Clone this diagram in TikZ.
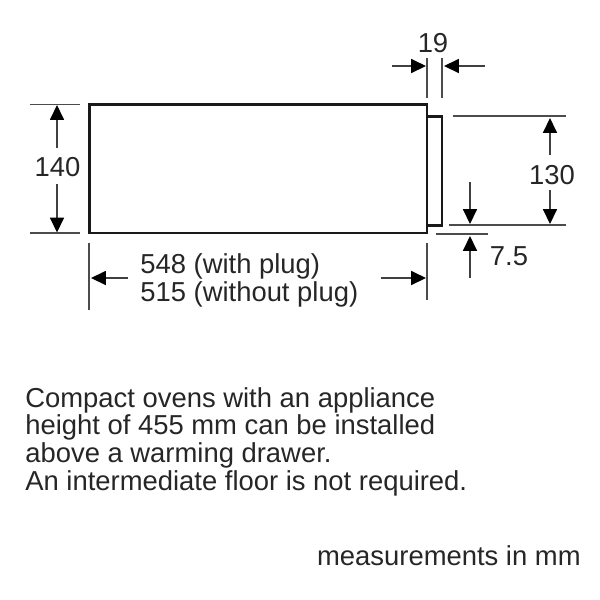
\documentclass[tikz,border=0pt]{standalone}
\usepackage{fontspec}
\setmainfont{Liberation Sans}
\usetikzlibrary{arrows.meta}
\tikzset{
    outline/.style={draw=black!90, line width=1.5pt, line join=miter},
    tick/.style={draw=black!70, line width=0.8pt},
    dimarrow/.style={draw=black!75, line width=0.8pt, -{Triangle[length=8.5pt,width=8pt,color=black]}},
    dimlabel/.style={text=black!85, font=\fontsize{15.6}{15.9}\selectfont, inner sep=0pt},
    notetext/.style={text=black!85, font=\fontsize{15.6}{15.75}\selectfont, inner sep=0pt, align=left, anchor=north west}
}
\begin{document}
\begin{tikzpicture}[x=0.02cm, y=-0.02cm]
    \useasboundingbox (0,0) rectangle (600,600);

    % appliance
    \coordinate (bodytl) at (89.5,104.5);
    \coordinate (bodytr) at (427,104.5);
    \coordinate (bodybl) at (89.5,233);
    \coordinate (bodybr) at (427,233);
    \coordinate (drawertl) at (427,116.5);
    \coordinate (drawertr) at (442,116.5);
    \coordinate (drawerbl) at (427,225.5);
    \coordinate (drawerbr) at (442,225.5);
    \draw[outline] (bodytl) -- (bodytr) -- (bodybr) -- (bodybl) -- cycle;
    \draw[outline] (drawertl) -- (drawertr) -- (drawerbr) -- (drawerbl);

    % 19
    \node[dimlabel] (depth) at (433,43.5) {19};
    \coordinate (depthla) at (427,58);
    \coordinate (depthlb) at (427,98);
    \coordinate (depthra) at (442,58);
    \coordinate (depthrb) at (442,98);
    \coordinate (deptharrowl) at (392,66);
    \coordinate (deptharrowlend) at (426,66);
    \coordinate (deptharrowr) at (485,66);
    \coordinate (deptharrowrend) at (444,66);
    \draw[tick] (depthla) -- (depthlb);
    \draw[tick] (depthra) -- (depthrb);
    \draw[dimarrow] (deptharrowl) -- (deptharrowlend);
    \draw[dimarrow] (deptharrowr) -- (deptharrowrend);

    % 140
    \node[dimlabel] (height) at (57.5,167) {140};
    \coordinate (heightta) at (30,104.5);
    \coordinate (heighttb) at (80,104.5);
    \coordinate (heightba) at (30,233);
    \coordinate (heightbb) at (80,233);
    \coordinate (heightt) at (57,105);
    \coordinate (heightb) at (57,232.5);
    \draw[tick] (heightta) -- (heighttb);
    \draw[tick] (heightba) -- (heightbb);
    \draw[dimarrow] (57,148) -- (heightt);
    \draw[dimarrow] (57,184) -- (heightb);

    % 548 / 515
    \node[dimlabel, align=left, anchor=north west] (width) at (140,253) {548 (with plug)\\515 (without plug)};
    \coordinate (widthla) at (89,243);
    \coordinate (widthlb) at (89,310);
    \coordinate (widthra) at (427,243);
    \coordinate (widthrb) at (427,300);
    \coordinate (widthl) at (128,278);
    \coordinate (widthlend) at (91,278);
    \coordinate (widthr) at (381,278);
    \coordinate (widthrend) at (426,278);
    \draw[tick] (widthla) -- (widthlb);
    \draw[tick] (widthra) -- (widthrb);
    \draw[dimarrow] (widthl) -- (widthlend);
    \draw[dimarrow] (widthr) -- (widthrend);

    % 130
    \node[dimlabel] (front) at (552,175) {130};
    \coordinate (frontta) at (453,116);
    \coordinate (fronttb) at (566,116);
    \coordinate (frontba) at (449,225);
    \coordinate (frontbb) at (566,225);
    \coordinate (frontt) at (550,118);
    \coordinate (frontb) at (550,224);
    \draw[tick] (frontta) -- (fronttb);
    \draw[tick] (frontba) -- (frontbb);
    \draw[dimarrow] (550,155) -- (frontt);
    \draw[dimarrow] (550,190) -- (frontb);

    % 7.5
    \node[dimlabel] (gap) at (509,256) {7.5};
    \coordinate (gapa) at (436,234);
    \coordinate (gapb) at (488,234);
    \coordinate (gapt) at (470,182);
    \coordinate (gaptend) at (470,224);
    \coordinate (gapd) at (470,278);
    \coordinate (gapdend) at (470,236);
    \draw[tick] (gapa) -- (gapb);
    \draw[dimarrow] (gapt) -- (gaptend);
    \draw[dimarrow] (gapd) -- (gapdend);

    % notes
    \node[notetext] (note) at (25,387) {Compact ovens with an appliance\\height of 455 mm can be installed\\above a warming drawer.\\An intermediate floor is not required.};
    \node[dimlabel, anchor=base east] (units) at (581,565) {measurements in mm};
\end{tikzpicture}
\end{document}
